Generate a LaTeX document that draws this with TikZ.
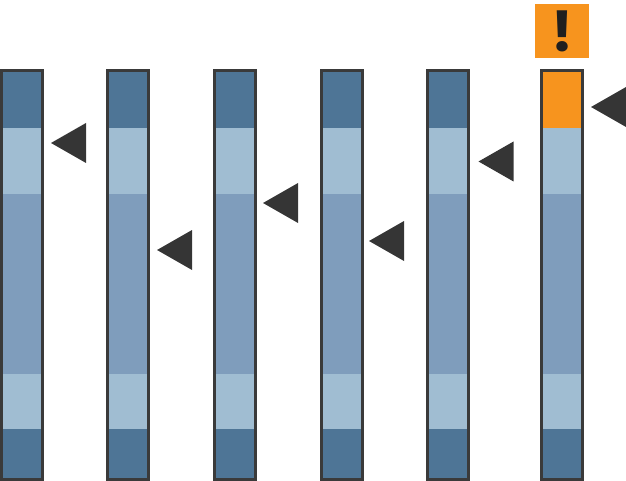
\documentclass[tikz,border=0pt]{standalone}
\usepackage{fontspec}
\setmainfont{Poppins}
\usetikzlibrary{shapes.geometric, positioning, fit}
\definecolor{bardark}{HTML}{4E7596}
\definecolor{barlight}{HTML}{A0BDD2}
\definecolor{barmid}{HTML}{7F9DBC}
\definecolor{framegray}{HTML}{3A3A3A}
\definecolor{alertorange}{HTML}{F7941E}
\definecolor{markgray}{HTML}{353535}
\begin{document}
\begin{tikzpicture}[
    x=1pt, y=-1pt,
    band/.style={
        rectangle, minimum width=41pt, inner sep=0pt, outer sep=0pt
    },
    topband/.style={band, fill=bardark, minimum height=57pt, anchor=north},
    upperband/.style={band, fill=barlight, minimum height=66pt},
    midband/.style={band, fill=barmid, minimum height=180pt},
    lowerband/.style={band, fill=barlight, minimum height=55pt},
    footband/.style={band, fill=bardark, minimum height=50.5pt},
    barframe/.style={
        rectangle, draw=framegray, line width=3pt, inner sep=0pt, outer sep=0pt
    },
    pointer/.style={
        isosceles triangle, isosceles triangle stretches, fill=markgray,
        shape border rotate=180, minimum width=40pt, minimum height=35pt,
        inner sep=0pt, outer sep=0pt, anchor=apex
    }
]
\useasboundingbox (0,0) rectangle (626,481);

%% --- BAR 1 ---
\node[topband] (topA) at (22,71) {};
\node[upperband, below=0pt of topA] (upperA) {};
\node[midband, below=0pt of upperA] (midA) {};
\node[lowerband, below=0pt of midA] (lowerA) {};
\node[footband, below=0pt of lowerA] (footA) {};
\node[barframe, fit=(topA)(footA)] (frameA) {};
\node[pointer] (pointerA) at (51,143) {};

%% --- BAR 2 ---
\node[topband] (topB) at (128,71) {};
\node[upperband, below=0pt of topB] (upperB) {};
\node[midband, below=0pt of upperB] (midB) {};
\node[lowerband, below=0pt of midB] (lowerB) {};
\node[footband, below=0pt of lowerB] (footB) {};
\node[barframe, fit=(topB)(footB)] (frameB) {};
\node[pointer] (pointerB) at (157,250) {};

%% --- BAR 3 ---
\node[topband] (topC) at (234.7,71) {};
\node[upperband, below=0pt of topC] (upperC) {};
\node[midband, below=0pt of upperC] (midC) {};
\node[lowerband, below=0pt of midC] (lowerC) {};
\node[footband, below=0pt of lowerC] (footC) {};
\node[barframe, fit=(topC)(footC)] (frameC) {};
\node[pointer] (pointerC) at (263,203) {};

%% --- BAR 4 ---
\node[topband] (topD) at (341.5,71) {};
\node[upperband, below=0pt of topD] (upperD) {};
\node[midband, below=0pt of upperD] (midD) {};
\node[lowerband, below=0pt of midD] (lowerD) {};
\node[footband, below=0pt of lowerD] (footD) {};
\node[barframe, fit=(topD)(footD)] (frameD) {};
\node[pointer] (pointerD) at (369,241) {};

%% --- BAR 5 ---
\node[topband] (topE) at (448,71) {};
\node[upperband, below=0pt of topE] (upperE) {};
\node[midband, below=0pt of upperE] (midE) {};
\node[lowerband, below=0pt of midE] (lowerE) {};
\node[footband, below=0pt of lowerE] (footE) {};
\node[barframe, fit=(topE)(footE)] (frameE) {};
\node[pointer] (pointerE) at (478.5,161.5) {};

%% --- BAR 6: the alert ---
\node[topband, fill=alertorange] (topF) at (562.3,71) {};
\node[upperband, below=0pt of topF] (upperF) {};
\node[midband, below=0pt of upperF] (midF) {};
\node[lowerband, below=0pt of midF] (lowerF) {};
\node[footband, below=0pt of lowerF] (footF) {};
\node[barframe, fit=(topF)(footF)] (frameF) {};
\node[pointer] (pointerF) at (591,107) {};

% warning sign above the last bar
\node[rectangle, fill=alertorange, minimum size=54pt, inner sep=0pt, text=black!88,
      font=\fontsize{56}{56}\selectfont\bfseries] (alert) at (562,31) {!};

\end{tikzpicture}
\end{document}
